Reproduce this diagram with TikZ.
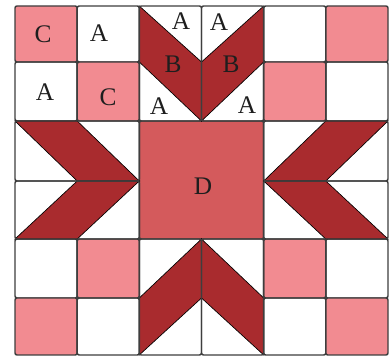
\documentclass[tikz,border=0pt]{standalone}
\usepackage{fontspec}
\setmainfont{Liberation Serif}
\begin{document}
\begin{tikzpicture}[x=0.75pt,y=0.75pt,yscale=-1,xscale=1,
	cell/.style={draw={rgb, 255:red, 62; green, 62; blue, 62 }, line width=1.1pt, rounded corners=1.5pt},
	pinkcell/.style={cell, fill={rgb, 255:red, 242; green, 139; blue, 145 }},
	piece/.style={draw=black, line width=0.5pt, fill={rgb, 255:red, 169; green, 43; blue, 46 }},
	letter/.style={inner sep=0pt, font=\fontsize{19}{23}\selectfont, text={rgb, 255:red, 30; green, 30; blue, 30 }}]
				\useasboundingbox (0,0) rectangle (390,356);
				
				%Shape: Square [id:row0] 
				\draw [pinkcell] (15,6) rectangle (77.2,62) ;
				\draw [cell] (77.2,6) rectangle (139.3,62) ;
				\draw [cell] (263.7,6) rectangle (325.8,62) ;
				\draw [pinkcell] (325.8,6) rectangle (388,62) ;
				%Shape: Square [id:row1] 
				\draw [cell] (15,62) rectangle (77.2,121) ;
				\draw [pinkcell] (77.2,62) rectangle (139.3,121) ;
				\draw [pinkcell] (263.7,62) rectangle (325.8,121) ;
				\draw [cell] (325.8,62) rectangle (388,121) ;
				%Shape: Square [id:row4] 
				\draw [cell] (15,239) rectangle (77.2,298) ;
				\draw [pinkcell] (77.2,239) rectangle (139.3,298) ;
				\draw [pinkcell] (263.7,239) rectangle (325.8,298) ;
				\draw [cell] (325.8,239) rectangle (388,298) ;
				%Shape: Square [id:row5] 
				\draw [pinkcell] (15,298) rectangle (77.2,355) ;
				\draw [cell] (77.2,298) rectangle (139.3,355) ;
				\draw [cell] (263.7,298) rectangle (325.8,355) ;
				\draw [pinkcell] (325.8,298) rectangle (388,355) ;
				%Shape: Square [id:center] 
				\draw [cell, fill={rgb, 255:red, 212; green, 90; blue, 92 }] (139.3,121) rectangle (263.7,239) ;
				
				%Shape: Polygon [id:top] 
				\draw [piece] (139.3,6) -- (201.5,62) -- (201.5,121) -- (139.3,62) -- cycle ;
				\draw [piece] (263.7,6) -- (201.5,62) -- (201.5,121) -- (263.7,62) -- cycle ;
				%Shape: Polygon [id:left] 
				\draw [piece] (15,121) -- (77.2,121) -- (139.3,181) -- (77.2,181) -- cycle ;
				\draw [piece] (77.2,181) -- (139.3,181) -- (77.2,239) -- (15,239) -- cycle ;
				%Shape: Polygon [id:right] 
				\draw [piece] (388,121) -- (325.8,121) -- (263.7,181) -- (325.8,181) -- cycle ;
				\draw [piece] (325.8,181) -- (263.7,181) -- (325.8,239) -- (388,239) -- cycle ;
				%Shape: Polygon [id:bottom] 
				\draw [piece] (139.3,298) -- (201.5,239) -- (201.5,298) -- (139.3,355) -- cycle ;
				\draw [piece] (201.5,239) -- (263.7,298) -- (263.7,355) -- (201.5,298) -- cycle ;
				
				%Shape: Rectangle [id:blocks] 
				\draw [cell] (139.3,6) rectangle (201.5,121) ;
				\draw [cell] (201.5,6) rectangle (263.7,121) ;
				\draw [cell] (15,121) rectangle (139.3,181) ;
				\draw [cell] (15,181) rectangle (139.3,239) ;
				\draw [cell] (263.7,121) rectangle (388,181) ;
				\draw [cell] (263.7,181) rectangle (388,239) ;
				\draw [cell] (139.3,239) rectangle (201.5,355) ;
				\draw [cell] (201.5,239) rectangle (263.7,355) ;
				
				% Text Node
				\node [letter] (cTopLeft) at (43,34) {C};
				% Text Node
				\node [letter] (aTopLeft) at (99,33) {A};
				% Text Node
				\node [letter] (aTopB1) at (181,21) {A};
				% Text Node
				\node [letter] (aTopB2) at (219,22) {A};
				% Text Node
				\node [letter] (bLeft) at (173,64) {B};
				% Text Node
				\node [letter] (bRight) at (231,64) {B};
				% Text Node
				\node [letter] (aSecond) at (45,92) {A};
				% Text Node
				\node [letter] (cSecond) at (108,97) {C};
				% Text Node
				\node [letter] (aLowB1) at (159,106) {A};
				% Text Node
				\node [letter] (aLowB2) at (247,105) {A};
				% Text Node
				\node [letter] (dCenter) at (203,186) {D};
				
			\end{tikzpicture}
\end{document}
